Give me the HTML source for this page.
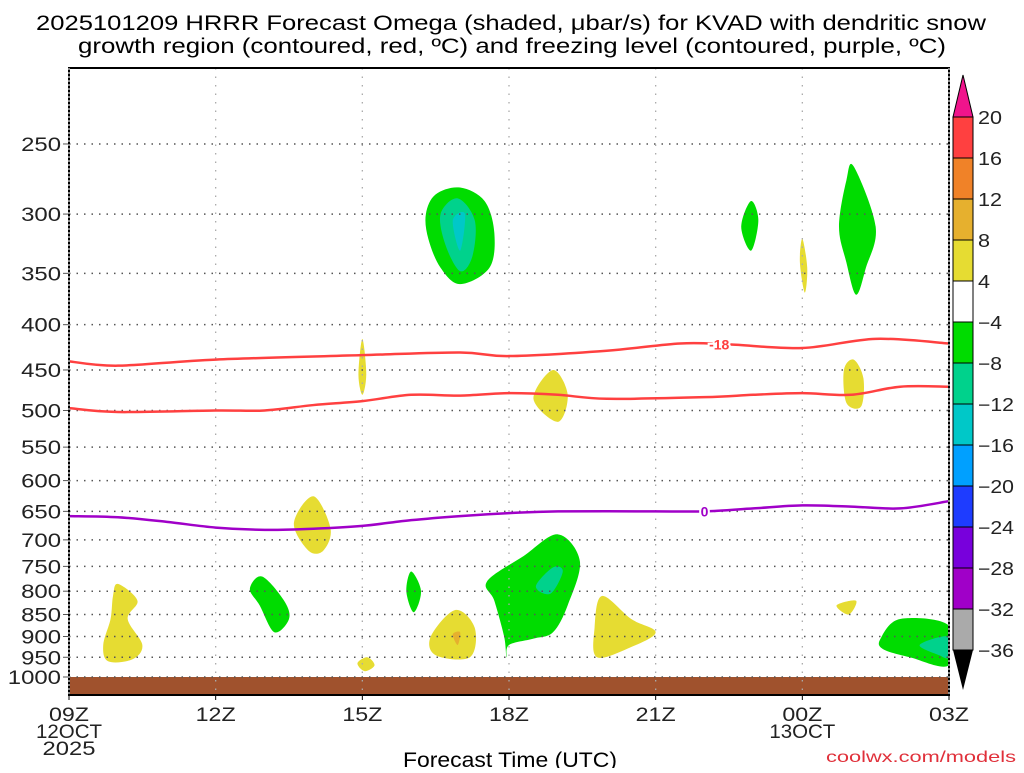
<!DOCTYPE html>
<html><head><meta charset="utf-8"><style>
body{margin:0;background:#fff}
svg text{font-family:"Liberation Sans",sans-serif}
</style></head><body>
<svg id="c" width="1024" height="768" xmlns="http://www.w3.org/2000/svg">
<text x="36" y="30" font-size="21" textLength="950" lengthAdjust="spacingAndGlyphs">2025101209 HRRR Forecast Omega (shaded, μbar/s) for KVAD with dendritic snow</text>
<text x="78" y="53" font-size="21" textLength="868" lengthAdjust="spacingAndGlyphs">growth region (contoured, red, ºC) and freezing level (contoured, purple, ºC)</text>
<text x="403" y="767" font-size="21" textLength="214" lengthAdjust="spacingAndGlyphs">Forecast Time (UTC)</text>
<text x="826" y="762" font-size="16" fill="#e0303a" textLength="190" lengthAdjust="spacingAndGlyphs">coolwx.com/models</text>
<g id="plot"></g>
</svg>
<script>
const pTicks=[250,300,350,400,450,500,550,600,650,700,750,800,850,900,950,1000];
const xHours=[0,3,6,9,12,15,18];
const xLabels=["09Z","12Z","15Z","18Z","21Z","00Z","03Z"];
const cbLevels=["20","16","12","8","4","-4","-8","-12","-16","-20","-24","-28","-32","-36"];
const cbColors=["#ff4040","#f08228","#e6b02e","#e6dc32","#ffffff","#00dc00","#00d28c","#00c8c8","#00a0ff","#1e3cff","#7800dc","#a000c8","#aaaaaa"];
const colorFor={g:"#00dc00",t:"#00d28c",c:"#00c8c8",y:"#e6dc32",o:"#e6b02e"};
const blobKinds=["g","t","c","g","g","y","y","y","y","y","g","t","g","g","y","y","o","y","y","y","g","t"];
const blobs=[
[[7.3,300],[7.5,285],[8.0,280],[8.5,290],[8.7,315],[8.6,345],[8.0,360],[7.6,345],[7.35,320]],
[[7.6,300],[7.95,288],[8.3,305],[8.25,335],[8.0,348],[7.7,325]],
[[7.85,305],[8.1,300],[8.0,330]],
[[13.75,310],[13.95,290],[14.1,305],[13.95,330]],
[[15.75,310],[15.9,275],[16.05,265],[16.5,310],[16.3,345],[16.1,370],[15.9,340]],
[[14.95,340],[15.0,320],[15.1,345],[15.05,368]],
[[6.0,415],[6.08,455],[6.0,480],[5.92,455]],
[[9.5,485],[9.9,450],[10.2,480],[10.0,515]],
[[15.85,450],[16.05,438],[16.25,460],[16.2,495],[15.9,490]],
[[4.6,670],[5.0,625],[5.35,680],[5.2,720],[4.9,720]],
[[8.55,780],[9.3,730],[10.0,690],[10.45,740],[10.2,830],[9.9,890],[9.5,905],[9.0,920],[8.95,950],[8.9,900],[8.7,820]],
[[9.55,790],[9.9,752],[10.1,760],[9.85,805]],
[[3.7,795],[3.95,770],[4.4,820],[4.5,860],[4.2,890],[3.9,830]],
[[6.9,800],[7.0,760],[7.2,800],[7.05,845]],
[[0.9,810],[1.0,785],[1.4,820],[1.2,860],[1.5,920],[1.3,955],[0.8,960],[0.7,920],[0.85,860]],
[[7.4,900],[7.9,840],[8.3,880],[8.2,950],[7.5,945]],
[[7.85,895],[8.0,890],[7.95,920]],
[[5.9,965],[6.1,950],[6.25,970],[6.05,985]],
[[10.75,880],[10.9,810],[11.5,860],[12.0,890],[11.5,925],[10.8,950]],
[[15.7,830],[16.1,820],[15.95,850]],
[[16.6,905],[17.0,860],[18,875],[18,970],[17.2,950],[16.65,930]],
[[17.4,920],[18,900],[18,950],[17.8,945]]
];
const lineHours=[0,1,3,6,8,9,11,12.5,13.5,15,16.5,18];
const red1=[440,445,438,433,430,434,428,420,421,425,415,420];
const red2Hours=[0,1,3,4,5,6,7,8,9,10,11,13,14,15,16,17,18];
const red2=[497,502,500,500,493,488,480,481,478,480,485,483,480,478,480,470,470];
const purpHours=[0,1,2,3,4,5,6,7,8,9,10,12,13,14,15,16,17,18];
const purp=[658,660,668,678,682,680,675,665,658,653,650,650,650,645,640,642,645,633];

const L=69,R=949,T=68,B=695;
const X=h=>L+h*(R-L)/18;
const Y=p=>677-384.5*Math.log(1000/p);
const NS="http://www.w3.org/2000/svg";
const g=document.getElementById('plot');
function mk(t,a,parent){const e=document.createElementNS(NS,t);for(const k in a)e.setAttribute(k,a[k]);(parent||g).appendChild(e);return e;}
function smooth(pts,closed){
 const n=pts.length;let d='M'+pts[0][0]+','+pts[0][1];
 const get=i=>closed?pts[(i+n)%n]:pts[Math.max(0,Math.min(n-1,i))];
 const m=closed?n:n-1;
 for(let i=0;i<m;i++){
  const p0=get(i-1),p1=get(i),p2=get(i+1),p3=get(i+2);
  const c1=[p1[0]+(p2[0]-p0[0])/6,p1[1]+(p2[1]-p0[1])/6];
  const c2=[p2[0]-(p3[0]-p1[0])/6,p2[1]-(p3[1]-p1[1])/6];
  d+=' C'+c1+' '+c2+' '+p2;
 }
 return d+(closed?'Z':'');
}
const clip=mk('clipPath',{id:'pc'});mk('rect',{x:L,y:T,width:R-L,height:B-T},clip);
const inner=mk('g',{'clip-path':'url(#pc)'});
blobs.forEach((b,i)=>{
 const e=mk('path',{d:smooth(b.map(q=>[X(q[0]),Y(q[1])]),true),fill:colorFor[blobKinds[i]]},inner);
 
 
});
const gr=mk('rect',{x:L,y:Y(1000),width:R-L,height:B-Y(1000),fill:'#a0522d'});


pTicks.forEach(p=>{
 const ln=mk('line',{x1:L,x2:R,y1:Y(p),y2:Y(p),stroke:'#555','stroke-width':1.5,'stroke-dasharray':'1.5 6'});
 
 
 mk('line',{x1:L-6,x2:L,y1:Y(p),y2:Y(p),stroke:'#555'});
 const s=String(p);
 const t=mk('text',{x:L-8,y:Y(p)+7,'font-size':19,'text-anchor':'end',fill:'#222',textLength:s.length*13.3,lengthAdjust:'spacingAndGlyphs'});
 t.textContent=s;
 
 
});
xHours.forEach((h,i)=>{
 if(i>0&&i<6){const ln=mk('line',{x1:X(h),x2:X(h),y1:T,y2:B,stroke:'#aaa','stroke-width':1.3,'stroke-dasharray':'1.5 7'});
 
 }
 mk('line',{x1:X(h),x2:X(h),y1:B,y2:B+5,stroke:'#000'});
 const t=mk('text',{x:X(h),y:721,'font-size':19,'text-anchor':'middle',fill:'#222',textLength:40,lengthAdjust:'spacingAndGlyphs'});
 t.textContent=xLabels[i];
 
 
});
[["12OCT",0,738,66],["2025",0,755,53],["13OCT",15,738,66]].forEach(a=>{
 const t=mk('text',{x:X(a[1]),y:a[2],'font-size':19,'text-anchor':'middle',fill:'#222',textLength:a[3],lengthAdjust:'spacingAndGlyphs'});
 t.textContent=a[0];
 
 
});
function path(hs,ps,color,name){
 const e=mk('path',{d:smooth(hs.map((h,i)=>[X(h),Y(ps[i])]),false),fill:'none',stroke:color,'stroke-width':2.5});
 
 
}
path(lineHours,red1,'#ff4040','contour-minus18-upper');
path(red2Hours,red2,'#ff4040','contour-minus12-lower');
path(purpHours,purp,'#a000c8','freezing-level-contour');
function lab(h,p,txt,color,name){
 const t=mk('text',{x:X(h),y:Y(p)+5,'font-size':14,'font-weight':'bold','text-anchor':'middle',fill:color,stroke:'#fff','stroke-width':4,'paint-order':'stroke'});
 t.textContent=txt;
 
 
}
lab(13.3,421,'-18','#ff4040','contour-label-minus18');
lab(13.0,650,'0','#a000c8','contour-label-zero');
mk('rect',{x:L,y:T,width:R-L,height:B-T,fill:'none',stroke:'#000','stroke-width':2});
mk('line',{x1:L,x2:L,y1:T,y2:B,stroke:'#888','stroke-width':2,'stroke-dasharray':'2 2'});
mk('line',{x1:R,x2:R,y1:T,y2:B,stroke:'#888','stroke-width':2,'stroke-dasharray':'2 2'});
const cbX=953,cbW=20,cb0=117,cbStep=41;
const tri=mk('polygon',{points:`${cbX},${cb0} ${cbX+cbW},${cb0} ${cbX+cbW/2},75`,fill:'#f0148c',stroke:'#000'});


cbColors.forEach((c,i)=>{
 const r=mk('rect',{x:cbX,y:cb0+i*cbStep,width:cbW,height:cbStep,fill:c,stroke:'#000'});
 
 
});
const yEnd=cb0+cbColors.length*cbStep;
const tri2=mk('polygon',{points:`${cbX},${yEnd} ${cbX+cbW},${yEnd} ${cbX+cbW/2},690`,fill:'#000'});


cbLevels.forEach((s,i)=>{
 const txt=s.replace('-','−');
 const t=mk('text',{x:978,y:cb0+i*cbStep+7,'font-size':18,fill:'#222',textLength:txt.length*12,lengthAdjust:'spacingAndGlyphs'});
 t.textContent=txt;
 
 
});
</script>
</body></html>
